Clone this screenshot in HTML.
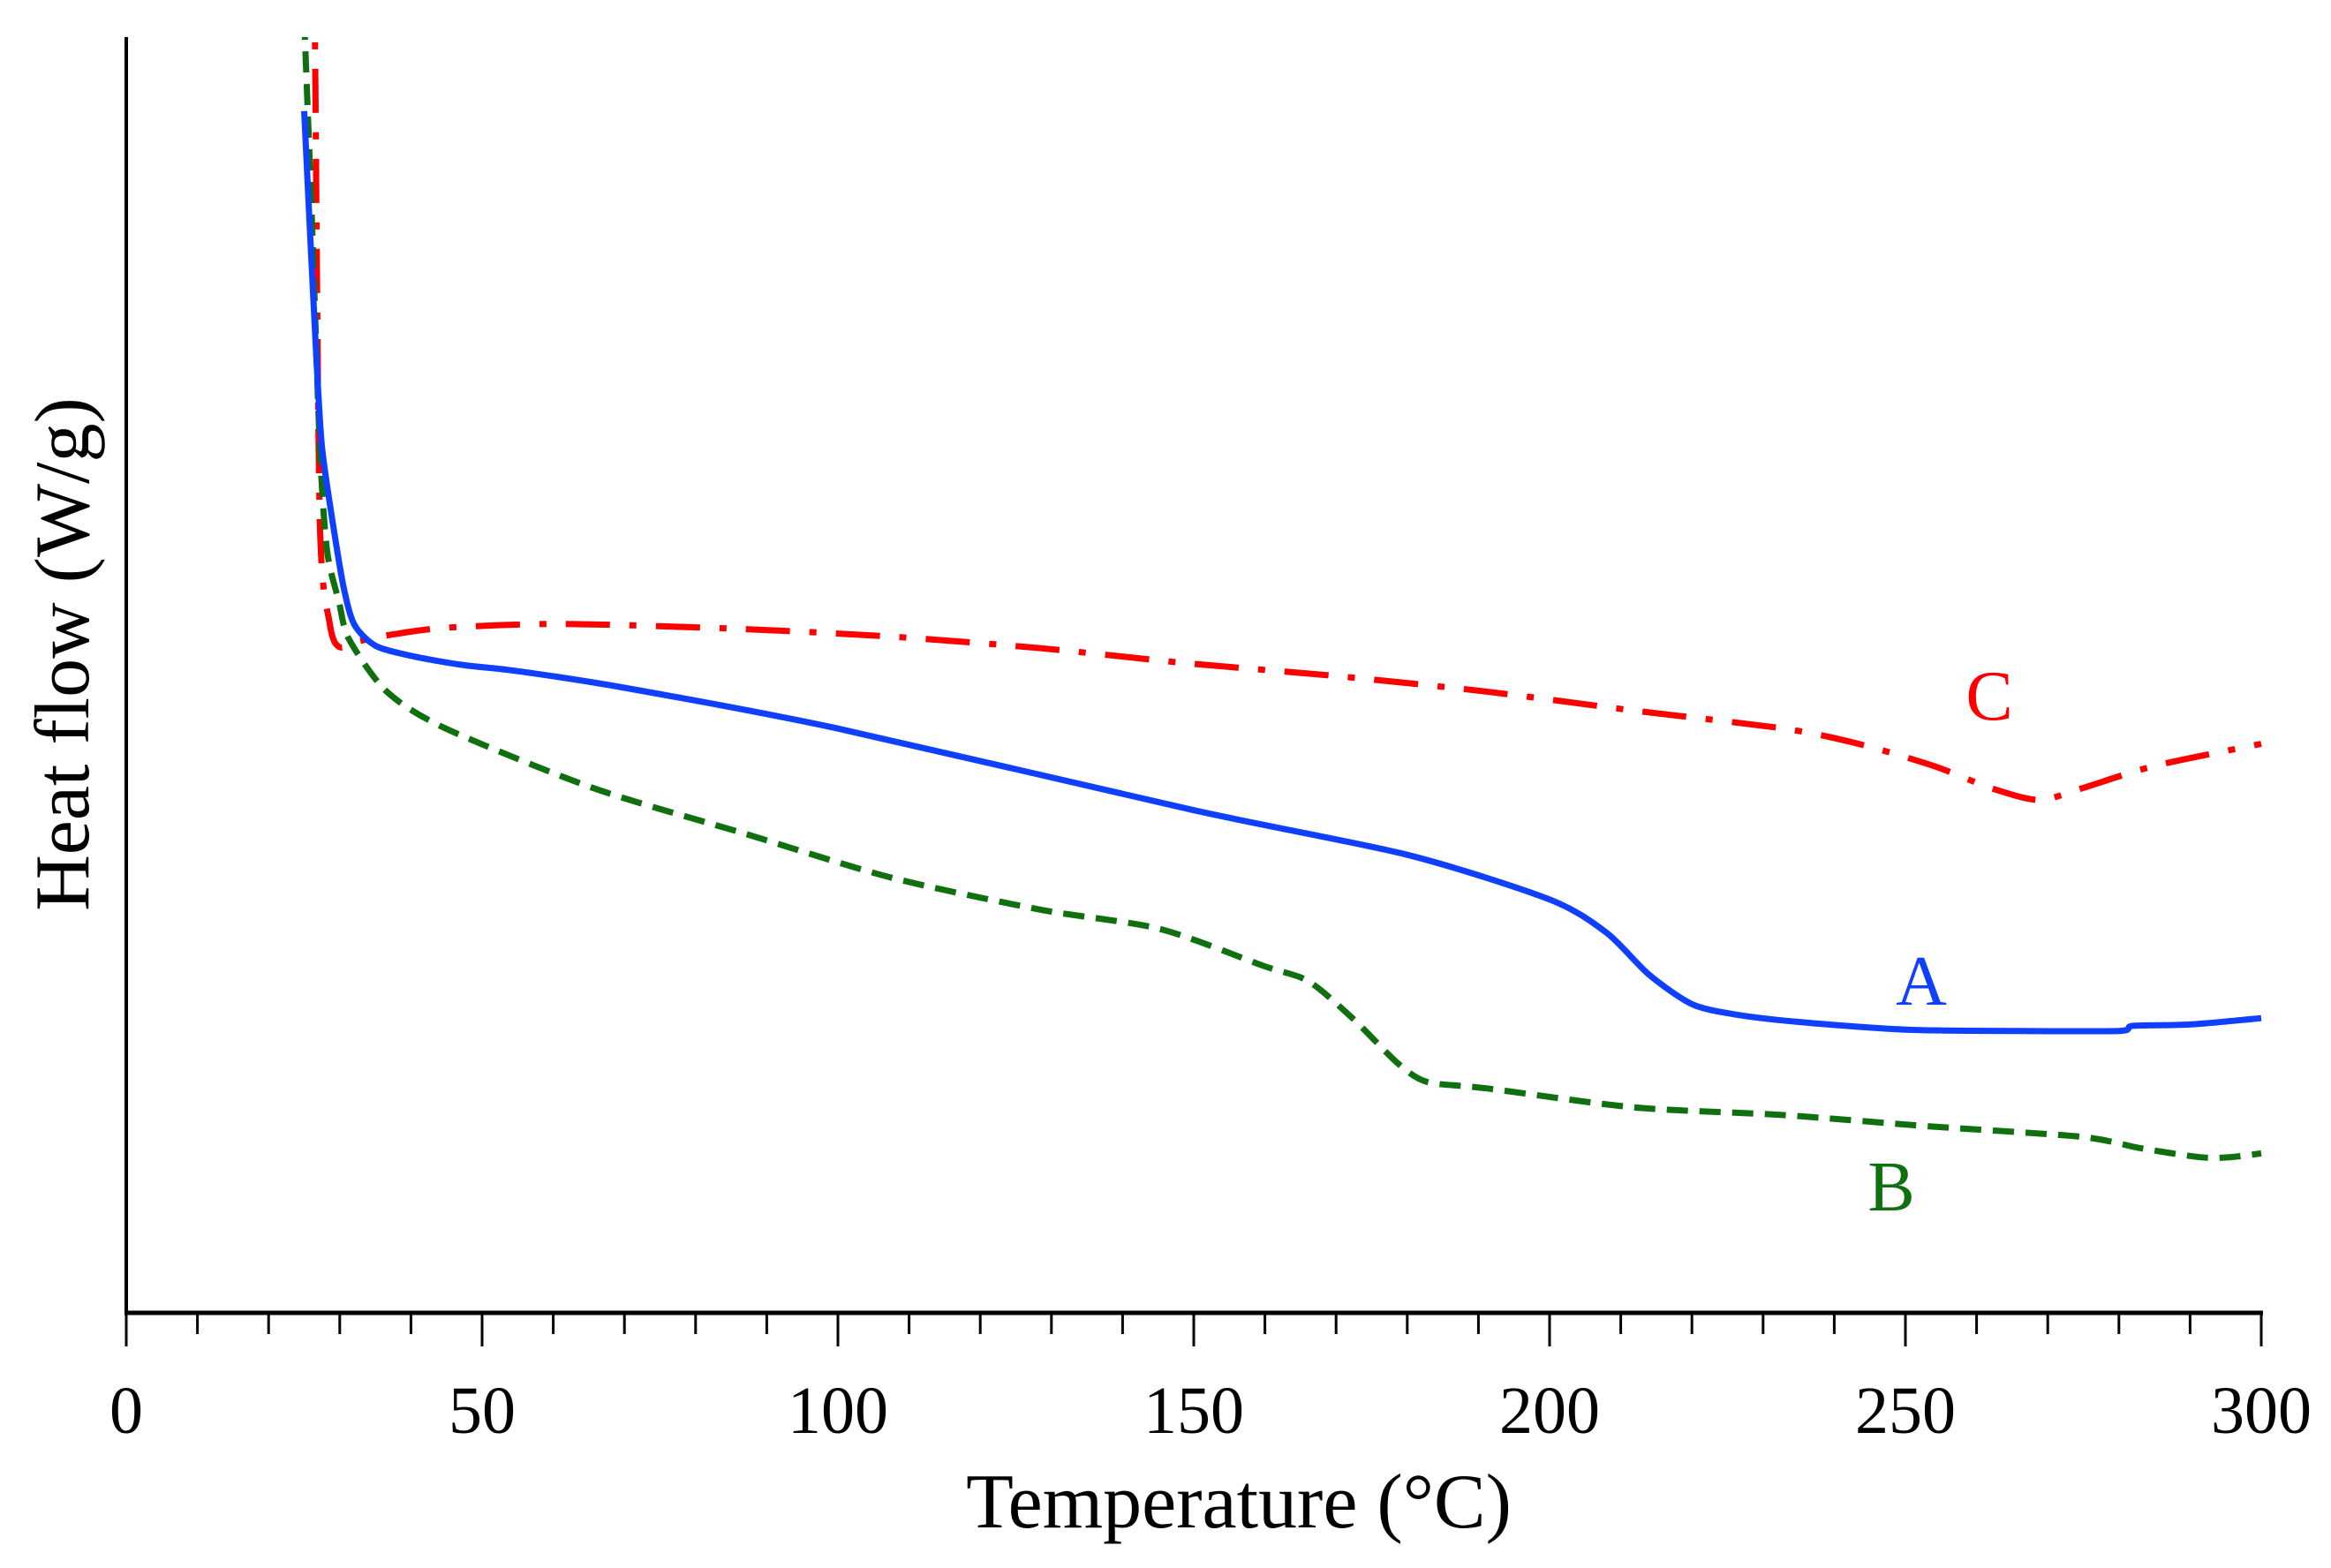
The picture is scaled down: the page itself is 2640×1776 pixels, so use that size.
<!DOCTYPE html>
<html><head><meta charset="utf-8"><style>
html,body{margin:0;padding:0;background:#fff;}
svg{display:block;}
text{font-family:"Liberation Serif",serif;}
</style></head><body>
<svg id="chart" width="2640" height="1776" viewBox="0 0 2640 1776" xmlns="http://www.w3.org/2000/svg">
<defs><clipPath id="plotclip"><rect x="143" y="42" width="2430" height="1445"/></clipPath></defs>
<g id="axes"></g>
<g id="series" clip-path="url(#plotclip)"></g>
<g id="labels"></g>
</svg>
<script>
const xTicks = [0, 50, 100, 150, 200, 250, 300];
const seriesA_T = [25,25.8,26.7,27.5,29,30.5,32,35,40,47,55,70,100,150,180,200,208,214,220,226,235,250,265,280,282,290,300];
const seriesA_V = [94.2,85,75,67.9,62,57,54,52.3,51.5,50.8,50.3,49,45.8,39.4,35.9,32.4,29.8,26.5,24.2,23.4,22.8,22.2,22.1,22.1,22.5,22.6,23.1];
const seriesB_T = [24.8,25.1,26.1,27.2,28.2,29.9,31.3,36.6,44.9,65.8,86.7,107.6,128.5,145.2,159.8,166.1,172.3,178.6,182.8,191.1,212,232.9,253.8,274.7,283.1,291.4,295.6,300];
const seriesB_V = [104,100,85.4,67.9,59.8,55.7,52.8,48.7,45.8,41.1,37.6,34.1,31.6,30.1,27.2,26,23.1,19.6,18.1,17.6,16.1,15.5,14.6,13.8,12.9,12.2,12.2,12.5];
const seriesC_T = [26.3,26.5,27.2,28.6,29.9,32.4,36.6,44.9,61.6,86.7,107.6,128.5,149.4,170.3,191.1,212,232.9,243.4,253.8,262.2,268.8,274.7,285.2,300];
const seriesC_V = [104,100.6,62.1,54,52.2,52.6,53.1,53.7,54,53.6,53,52.1,50.9,49.9,48.7,47.2,45.8,44.6,42.9,41.1,40.2,41.1,42.9,44.6];

const X0=143, X1=2561, Y0=1487, Y1=42;
function xs(t){return X0+(t/300)*(X1-X0);}
function ys(v){return Y0-(v/100)*(Y0-Y1);}
const NS="http://www.w3.org/2000/svg";
function mk(tag,attrs,parent){const e=document.createElementNS(NS,tag);for(const k in attrs)e.setAttribute(k,attrs[k]);parent.appendChild(e);return e;}
const axes=document.getElementById('axes');
let el=mk('line',{x1:X0,y1:Y1,x2:X0,y2:Y0+2,stroke:'#000','stroke-width':4},axes);


el=mk('line',{x1:X0-2,y1:Y0,x2:X1+2,y2:Y0,stroke:'#000','stroke-width':5},axes);


for(let t=0;t<=300;t+=10){
  const major=(t%50===0);
  el=mk('line',{x1:xs(t),y1:Y0,x2:xs(t),y2:Y0+(major?38:24),stroke:'#000','stroke-width':3},axes);
  
  
}
xTicks.forEach(t=>{
  const tx=mk('text',{x:xs(t),y:1623,'font-size':76,'text-anchor':'middle',fill:'#000'},axes);
  tx.textContent=t;
  
  
});
el=mk('text',{x:1403,y:1730,'font-size':88,'text-anchor':'middle',fill:'#000'},axes);
el.textContent='Temperature (°C)';


el=mk('text',{x:0,y:0,'font-size':88,'text-anchor':'middle',fill:'#000',transform:'translate(100,741) rotate(-90)'},axes);
el.textContent='Heat flow (W/g)';



const ser=document.getElementById('series');
function pathD(T,V){
  const p=T.map((t,i)=>[xs(t),ys(V[i])]);
  let d='M'+p[0][0].toFixed(1)+','+p[0][1].toFixed(1);
  for(let i=0;i<p.length-1;i++){
    const p0=p[Math.max(i-1,0)],p1=p[i],p2=p[i+1],p3=p[Math.min(i+2,p.length-1)];
    const k=1/6*0.8;
    const c1=[p1[0]+(p2[0]-p0[0])*k,p1[1]+(p2[1]-p0[1])*k];
    const c2=[p2[0]-(p3[0]-p1[0])*k,p2[1]-(p3[1]-p1[1])*k];
    d+=' C'+c1[0].toFixed(1)+','+c1[1].toFixed(1)+' '+c2[0].toFixed(1)+','+c2[1].toFixed(1)+' '+p2[0].toFixed(1)+','+p2[1].toFixed(1);
  }
  return d;
}
el=mk('path',{d:pathD(seriesC_T,seriesC_V),fill:'none',stroke:'#ff0000','stroke-width':7,'stroke-dasharray':'50 22 8 22','stroke-linejoin':'round'},ser);


el=mk('path',{d:pathD(seriesB_T,seriesB_V),fill:'none',stroke:'#107010','stroke-width':7,'stroke-dasharray':'24 13','stroke-linejoin':'round'},ser);


el=mk('path',{d:pathD(seriesA_T,seriesA_V),fill:'none',stroke:'#1040ff','stroke-width':7,'stroke-linejoin':'round'},ser);



const lab=document.getElementById('labels');
el=mk('text',{x:2253,y:815,'font-size':80,'text-anchor':'middle',fill:'#ff0000'},lab);
el.textContent='C';


el=mk('text',{x:2176,y:1138,'font-size':80,'text-anchor':'middle',fill:'#1040ff'},lab);
el.textContent='A';


el=mk('text',{x:2142,y:1371,'font-size':80,'text-anchor':'middle',fill:'#107010'},lab);
el.textContent='B';


</script>
</body></html>
